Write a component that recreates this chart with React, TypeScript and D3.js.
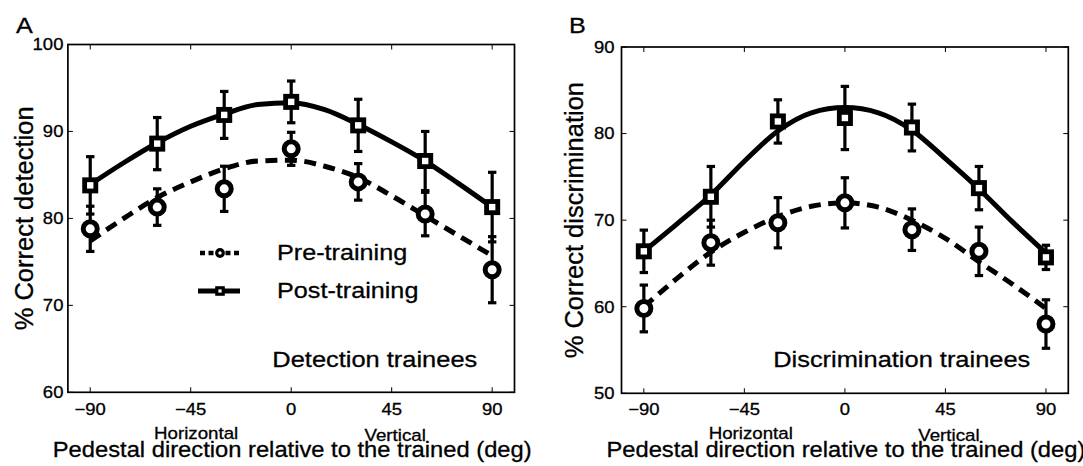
import * as d3 from "d3";
import * as React from "react";

// pedestal directions (deg) where the data were measured
const angles = [-90, -60, -30, 0, 30, 60, 90];
const fitAngles = [-90, -75, -60, -45, -30, -15, 0, 15, 30, 45, 60, 75, 90];
const xTicks = [-90, -45, 0, 45, 90];

// panel A: detection trainees
const detYTicks = [60, 70, 80, 90, 100];
const detPre = [78.8, 81.3, 83.4, 88.0, 84.2, 80.5, 74.1];
const detPreErr = [2.6, 2.1, 2.6, 1.9, 2.1, 2.5, 3.8];
const detPost = [83.8, 88.6, 91.9, 93.4, 90.7, 86.6, 81.3];
const detPostErr = [3.3, 3.0, 2.7, 2.4, 3.0, 3.4, 4.0];
const detPreFit = [77.4, 80.0, 82.4, 84.2, 85.7, 86.6, 86.7, 86.0, 84.7, 82.6, 80.3, 78.0, 75.7];
const detPostFit = [83.9, 86.4, 88.7, 90.6, 92.0, 93.1, 93.3, 92.5, 90.8, 88.8, 86.6, 84.0, 81.3];

// panel B: discrimination trainees
const discYTicks = [50, 60, 70, 80, 90];
const discPre = [59.8, 67.4, 69.7, 72.0, 68.9, 66.4, 58.0];
const discPreErr = [2.7, 2.6, 2.9, 2.9, 2.4, 2.8, 2.8];
const discPost = [66.4, 72.7, 81.4, 81.8, 80.7, 73.7, 65.7];
const discPostErr = [2.45, 3.5, 2.5, 3.65, 2.7, 2.5, 1.4];
const discPreFit = [60.0, 63.3, 66.3, 68.6, 70.4, 71.6, 72.0, 71.5, 70.0, 67.9, 65.2, 62.6, 59.8];
const discPostFit = [66.4, 69.6, 72.9, 76.8, 80.3, 82.4, 83.0, 82.4, 80.4, 77.1, 73.6, 69.8, 66.2];

const legendLabels = ["Pre-training", "Post-training"];
const xLabel = "Pedestal direction relative to the trained (deg)";

const FONT = "'Liberation Sans', Arial, Helvetica, sans-serif";
const SX = 1.12; // the original figure is a bit wider than tall

function SText(props: any) {
  const { x, y, size, anchor = "start", children } = props;
  return (
    <text
      transform={`translate(${x},${y}) scale(${SX},1)`}
      fontSize={size}
      textAnchor={anchor}
      fill="#000"
      stroke="#000"
      strokeWidth={0.3}
    >
      {children}
    </text>
  );
}

function Panel(props: any) {
  const {
    letter, letterX, left, right, top, bottom, yDomain, yTicks, tickGap,
    pre, preErr, post, postErr, preFit, postFit, yLabel, yLabelX,
    note, noteX, hOff, vOff, showLegend,
  } = props;

  const x = d3.scaleLinear().domain([-100, 100]).range([left, right]);
  const y = d3.scaleLinear().domain(yDomain).range([bottom, top]);

  const line = d3
    .line<number>()
    .x((d, i) => x(fitAngles[i]))
    .y((d) => y(d))
    .curve(d3.curveMonotoneX);

  const errBars = (vals: number[], errs: number[]) =>
    vals.map((v, i) => {
      const cx = x(angles[i]);
      const y1 = y(v - errs[i]);
      const y2 = y(v + errs[i]);
      return (
        <g key={"e" + i} stroke="#000" strokeWidth={3.2}>
          <line x1={cx} x2={cx} y1={y1} y2={y2} />
          <line x1={cx - 4.2} x2={cx + 4.2} y1={y1} y2={y1} />
          <line x1={cx - 4.2} x2={cx + 4.2} y1={y2} y2={y2} />
        </g>
      );
    });

  const tl = 5;
  const legX1 = 200;
  const legX2 = 240;
  const legCx = (legX1 + legX2) / 2;

  return (
    <g fontFamily={FONT}>
      <SText x={letterX} y={32.5} size={22.5}>{letter}</SText>

      {/* fitted curves */}
      <path d={line(preFit) || ""} fill="none" stroke="#000" strokeWidth={5} strokeDasharray="12,7.5" />
      <path d={line(postFit) || ""} fill="none" stroke="#000" strokeWidth={5} />

      {errBars(pre, preErr)}
      {errBars(post, postErr)}

      {pre.map((v, i) => (
        <circle key={"c" + i} cx={x(angles[i])} cy={y(v)} r={7} fill="#fff" stroke="#000" strokeWidth={5} />
      ))}
      {post.map((v, i) => (
        <rect key={"s" + i} x={x(angles[i]) - 5.6} y={y(v) - 5.6} width={11.2} height={11.2} fill="#fff" stroke="#000" strokeWidth={4.8} />
      ))}

      {/* axes box with inward ticks */}
      <rect x={left} y={top} width={right - left} height={bottom - top} fill="none" stroke="#000" strokeWidth={1.7} />
      {xTicks.map((t) => (
        <g key={"xt" + t} stroke="#000" strokeWidth={1}>
          <line x1={x(t)} x2={x(t)} y1={bottom} y2={bottom - tl} />
          <line x1={x(t)} x2={x(t)} y1={top} y2={top + tl} />
        </g>
      ))}
      {yTicks.map((t: number) => (
        <g key={"yt" + t} stroke="#000" strokeWidth={1}>
          <line x1={left} x2={left + tl} y1={y(t)} y2={y(t)} />
          <line x1={right} x2={right - tl} y1={y(t)} y2={y(t)} />
        </g>
      ))}
      {xTicks.map((t) => (
        <SText key={"xl" + t} x={x(t)} y={415} size={16.5} anchor="middle">
          {t < 0 ? "\u2212" + Math.abs(t) : String(t)}
        </SText>
      ))}
      {yTicks.map((t: number) => (
        <SText key={"yl" + t} x={left - tickGap} y={y(t) + 5.9} size={16.5} anchor="end">
          {String(t)}
        </SText>
      ))}

      <SText x={x(-45) + hOff} y={438.5} size={16.7} anchor="middle">Horizontal</SText>
      <SText x={x(45) + vOff} y={440.5} size={16.7} anchor="middle">Vertical</SText>
      <SText x={(left + right) / 2 + 1} y={457} size={21.2} anchor="middle">{xLabel}</SText>

      <text
        transform={`translate(${yLabelX},${(top + bottom) / 2}) rotate(-90)`}
        fontSize={25.5}
        textAnchor="middle"
        stroke="#000"
        strokeWidth={0.3}
      >
        {yLabel}
      </text>

      <SText x={noteX} y={366.5} size={22.7} anchor="middle">{note}</SText>

      {showLegend && (
        <g>
          <line x1={legX1} x2={legX2} y1={253} y2={253} stroke="#000" strokeWidth={4.5} strokeDasharray="5,3.5" />
          <circle cx={legCx} cy={253} r={3.3} fill="#fff" stroke="#000" strokeWidth={3.2} />
          <line x1={legX1 - 2} x2={legX2} y1={291} y2={291} stroke="#000" strokeWidth={5} />
          <rect x={legCx - 3.2} y={287.8} width={6.4} height={6.4} fill="#fff" stroke="#000" strokeWidth={3.2} />
          <SText x={277} y={259.5} size={22.5}>{legendLabels[0]}</SText>
          <SText x={277} y={297.5} size={22.5}>{legendLabels[1]}</SText>
        </g>
      )}
    </g>
  );
}

export default function App() {
  return (
    <svg
      width={1083}
      height={466}
      style={{ position: "absolute", left: 0, top: 0, background: "#fff" }}
    >
      <rect width={1083} height={466} fill="#fff" />
      <Panel
        letter="A"
        letterX={16}
        left={67.9}
        right={514.5}
        top={44.5}
        bottom={392.3}
        yDomain={[60, 100]}
        yTicks={detYTicks}
        tickGap={4.5}
        pre={detPre}
        preErr={detPreErr}
        post={detPost}
        postErr={detPostErr}
        preFit={detPreFit}
        postFit={detPostFit}
        yLabel="% Correct detection"
        yLabelX={32.5}
        note="Detection trainees"
        noteX={374.8}
        hOff={5.4}
        vOff={3.5}
        showLegend={true}
      />
      <Panel
        letter="B"
        letterX={569}
        left={621.5}
        right={1068.3}
        top={47}
        bottom={393.3}
        yDomain={[50, 90]}
        yTicks={discYTicks}
        tickGap={7}
        pre={discPre}
        preErr={discPreErr}
        post={discPost}
        postErr={discPostErr}
        preFit={discPreFit}
        postFit={discPostFit}
        yLabel="% Correct discrimination"
        yLabelX={583}
        note="Discrimination trainees"
        noteX={901.7}
        hOff={6.4}
        vOff={3.5}
        showLegend={false}
      />
    </svg>
  );
}
